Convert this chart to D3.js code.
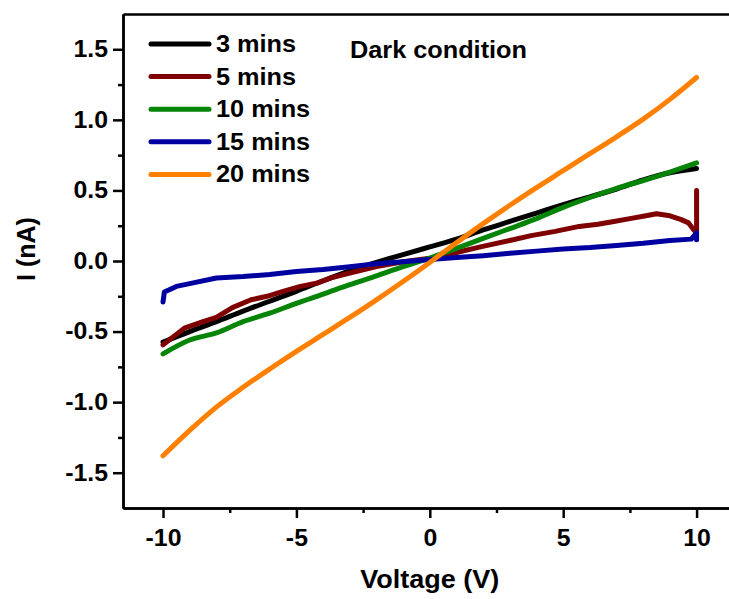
<!DOCTYPE html>
<html>
<head>
<meta charset="utf-8">
<script src="https://cdn.jsdelivr.net/npm/d3@7"></script>
<style>
  body { margin: 0; background: #fff; }
  svg { display: block; font-family: "Liberation Sans", Arial, sans-serif; font-weight: bold; }
</style>
</head>
<body>
<svg id="chart" width="729" height="599"></svg>
<script>
// I-V sweeps (V in volts, I in nA)
const seriesNames = ['3 mins', '5 mins', '10 mins', '15 mins', '20 mins'];
const seriesColors = ['#000000', '#7f0000', '#058405', '#0000a0', '#ff8000'];

const v3 = [-10, -9, -8, -7, -6, -5, -4, -3, -2, -1, 0, 1, 2, 3, 4, 5, 6, 7, 8, 9, 10];
const i3 = [-0.575, -0.50, -0.43, -0.355, -0.285, -0.215, -0.14, -0.07, -0.01, 0.045, 0.10, 0.155, 0.22, 0.28, 0.34, 0.40, 0.455, 0.51, 0.575, 0.625, 0.655];

const v5 = [-10, -9.5, -9.2, -8.5, -8, -7.4, -6.7, -6.1, -5.5, -4.85, -4.2, -3.7, -3, -2, -1, 0, 1, 1.9, 3, 3.8, 4.7, 5.6, 6.3, 6.9, 7.5, 8.1, 8.5, 9, 9.4, 9.7, 9.9, 10, 10];
const i5 = [-0.594, -0.52, -0.476, -0.43, -0.40, -0.33, -0.275, -0.25, -0.215, -0.18, -0.155, -0.12, -0.085, -0.04, -0.005, 0.02, 0.06, 0.10, 0.145, 0.18, 0.21, 0.245, 0.26, 0.28, 0.30, 0.32, 0.335, 0.32, 0.295, 0.27, 0.22, 0.20, 0.50];

const v10 = [-10, -9, -8, -7, -6, -5, -4, -3, -2, -1, 0, 1, 2, 3, 4, 5, 6, 7, 8, 9, 10];
const i10 = [-0.658, -0.56, -0.51, -0.43, -0.37, -0.30, -0.235, -0.168, -0.105, -0.04, 0.02, 0.09, 0.16, 0.23, 0.30, 0.38, 0.45, 0.515, 0.57, 0.63, 0.695];

const v15 = [-10, -9.95, -9.5, -9, -8, -7, -6, -5, -4, -3, -2, -1, 0, 1, 2, 3, 4, 5, 6, 7, 8, 9, 9.8, 10, 10];
const i15 = [-0.29, -0.22, -0.18, -0.16, -0.12, -0.11, -0.095, -0.075, -0.06, -0.04, -0.02, -0.005, 0.01, 0.025, 0.038, 0.055, 0.07, 0.085, 0.095, 0.11, 0.125, 0.145, 0.155, 0.20, 0.15];

const v20 = [-10, -9, -8, -7, -6, -5, -4, -3, -2, -1, 0, 1, 2, 3, 4, 5, 6, 7, 8, 9, 10];
const i20 = [-1.38, -1.20, -1.035, -0.895, -0.765, -0.64, -0.52, -0.40, -0.275, -0.145, -0.01, 0.13, 0.265, 0.395, 0.52, 0.64, 0.76, 0.88, 1.005, 1.145, 1.30];

const xMajor = [-10, -5, 0, 5, 10];
const xMinor = [-7.5, -2.5, 2.5, 7.5];
const yMajor = [-1.5, -1.0, -0.5, 0.0, 0.5, 1.0, 1.5];
const yMinor = [-1.25, -0.75, -0.25, 0.25, 0.75, 1.25];

const allV = [v3, v5, v10, v15, v20];
const allI = [i3, i5, i10, i15, i20];
const smooth = [true, false, true, false, true];

const svg = d3.select('#chart');
const x = d3.scaleLinear().domain([-11.5, 11.5]).range([123, 736.6]);
const y = d3.scaleLinear().domain([-1.75, 1.75]).range([508, 14]);

// the picture is a bit wider than tall, so stretch horizontal text to suit
const SX = 1.08;
const hyphen = f => d => f(d).replace('\u2212', '-');

function styleAxis(g) {
  g.selectAll('path, line').attr('stroke', '#000').attr('stroke-width', 2.5);
  g.selectAll('text').attr('fill', '#000').attr('font-size', 23).attr('font-weight', 'bold')
    .attr('font-family', '"Liberation Sans", Arial, sans-serif');
}

// minor ticks first
svg.append('g').attr('transform', 'translate(0,508)')
  .call(d3.axisBottom(x).tickValues(xMinor).tickSize(5).tickSizeOuter(0).tickFormat(''))
  .call(styleAxis);
svg.append('g').attr('transform', 'translate(123,0)')
  .call(d3.axisLeft(y).tickValues(yMinor).tickSize(5).tickSizeOuter(0).tickFormat(''))
  .call(styleAxis);

// major ticks with labels
const xAx = svg.append('g').attr('transform', 'translate(0,508)')
  .call(d3.axisBottom(x).tickValues(xMajor).tickSize(10).tickSizeOuter(0).tickPadding(12).tickFormat(hyphen(d3.format('d'))))
  .call(styleAxis);
xAx.selectAll('.tick text').attr('transform', `scale(${SX},1)`);
const yAx = svg.append('g').attr('transform', 'translate(123,0)')
  .call(d3.axisLeft(y).tickValues(yMajor).tickSize(10).tickSizeOuter(0).tickPadding(5).tickFormat(hyphen(d3.format('.1f'))))
  .call(styleAxis);
yAx.selectAll('.tick text').attr('x', -15 / SX).attr('transform', `scale(${SX},1)`);

// top frame line
svg.append('g').attr('transform', 'translate(0,14)')
  .call(d3.axisTop(x).tickValues([]).tickSizeOuter(0))
  .call(styleAxis);

// curves
const lineSmooth = d3.line().x(d => x(d[0])).y(d => y(d[1])).curve(d3.curveMonotoneX);
const lineRaw = d3.line().x(d => x(d[0])).y(d => y(d[1]));
allV.forEach((vs, k) => {
  const pts = vs.map((v, j) => [v, allI[k][j]]);
  svg.append('path')
    .datum(pts)
    .attr('d', smooth[k] ? lineSmooth : lineRaw)
    .attr('fill', 'none')
    .attr('stroke', seriesColors[k])
    .attr('stroke-width', 5)
    .attr('stroke-linecap', 'round')
    .attr('stroke-linejoin', 'round');
});

// legend
const leg = svg.append('g');
seriesNames.forEach((name, k) => {
  const ly = 44 + k * 32.6;
  leg.append('line')
    .attr('x1', 151).attr('x2', 209).attr('y1', ly).attr('y2', ly)
    .attr('stroke', seriesColors[k]).attr('stroke-width', 5).attr('stroke-linecap', 'round');
  leg.append('text')
    .attr('transform', `translate(216,${ly + 8}) scale(${SX + 0.02},1)`)
    .attr('font-size', 23)
    .text(name);
});

svg.append('text')
  .attr('transform', `translate(350,58) scale(${SX + 0.02},1)`)
  .attr('font-size', 23)
  .text('Dark condition');

// axis titles
svg.append('text')
  .attr('transform', `translate(${x(0)},588) scale(${SX},1)`)
  .attr('text-anchor', 'middle')
  .attr('font-size', 25)
  .text('Voltage (V)');

svg.append('text')
  .attr('transform', 'translate(35,249) rotate(-90)')
  .attr('text-anchor', 'middle')
  .attr('font-size', 25)
  .text('I (nA)');
</script>
</body>
</html>
